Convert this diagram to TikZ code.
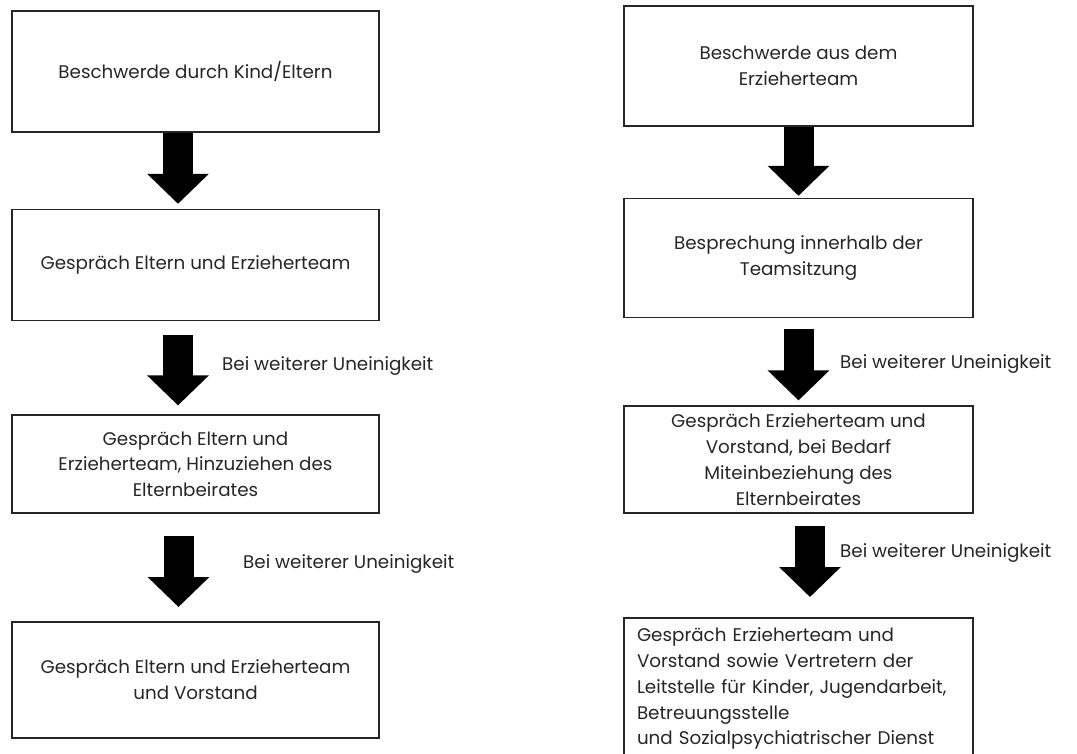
\documentclass[tikz,border=0pt]{standalone}
\usepackage{fontspec}
\setmainfont{Poppins}
\usepackage{tikz}
\usetikzlibrary{positioning}
\usetikzlibrary{arrows.meta}

\begin{document}
\begin{tikzpicture}
[
x=1pt, y=-1pt,
font=\fontsize{18.3}{25.8}\selectfont,
box-a/.style={rectangle,draw=black!85,line width=1.6pt,align=center,text=black!85,inner ysep=2pt},
text-a/.style={black!85,anchor=west,inner sep=0pt},
arrow-a/.style={line width=30pt,-{Triangle[length=30pt,width=60pt]}},
]
\useasboundingbox (0,0) rectangle (1077,754);
\clip (0,0) rectangle (1077,754);
% left column
\node (n1) [box-a, minimum width=367pt, minimum height=121pt] at (195.5,71.5) {Beschwerde durch Kind/Eltern};
\node (n2) [box-a, minimum width=367pt, minimum height=111pt, below = 76pt of n1]  {Gespräch Eltern und Erzieherteam};
\node (n3) [box-a, minimum width=367pt, minimum height=98pt,  below = 93pt of n2]  {Gespräch Eltern und\\Erzieherteam, Hinzuziehen des\\Elternbeirates};
\node (n4) [box-a, minimum width=367pt, minimum height=116pt, below = 107pt of n3] {Gespräch Eltern und Erzieherteam\\und Vorstand};
\node (l2) [text-a] at (222,366) {Bei weiterer Uneinigkeit};
\node (l3) [text-a] at (243,564) {Bei weiterer Uneinigkeit};
\draw [arrow-a, shorten >=5pt]              ([xshift=-17.5pt]n1.south) -- ([xshift=-17.5pt]n2.north);
\draw [arrow-a, shorten <=14pt, shorten >=9pt]  ([xshift=-17.5pt]n2.south) -- ([xshift=-17.5pt]n3.north);
\draw [arrow-a, shorten <=22pt, shorten >=14pt] ([xshift=-17pt]n3.south) -- ([xshift=-17pt]n4.north);
% right column
\node (m1) [box-a, minimum width=349pt, minimum height=120pt] at (798.5,66) {Beschwerde aus dem\\Erzieherteam};
\node (m2) [box-a, minimum width=349pt, minimum height=119pt, below = 71pt of m1] {Besprechung innerhalb der\\Teamsitzung};
\node (m3) [box-a, minimum width=349pt, minimum height=107pt, below = 87pt of m2] {Gespräch Erzieherteam und\\Vorstand, bei Bedarf\\Miteinbeziehung des\\Elternbeirates};
\node (m4) [box-a, text width=323pt, inner xsep=13pt, inner ysep=10pt, align=left, below = 103pt of m3] {Gespräch Erzieherteam und\\Vorstand sowie Vertretern der\\Leitstelle für Kinder, Jugendarbeit,\\Betreuungsstelle\\und Sozialpsychiatrischer Dienst};
\node (r2) [text-a] at (840,364) {Bei weiterer Uneinigkeit};
\node (r3) [text-a] at (840,553) {Bei weiterer Uneinigkeit};
\draw [arrow-a, shorten >=2pt]                  (m1.south) -- (m2.north);
\draw [arrow-a, shorten <=11pt, shorten >=5pt]  (m2.south) -- (m3.north);
\draw [arrow-a, shorten <=12pt, shorten >=20pt] ([xshift=11.5pt]m3.south) -- ([xshift=11.5pt]m4.north);
\end{tikzpicture}
\end{document}
